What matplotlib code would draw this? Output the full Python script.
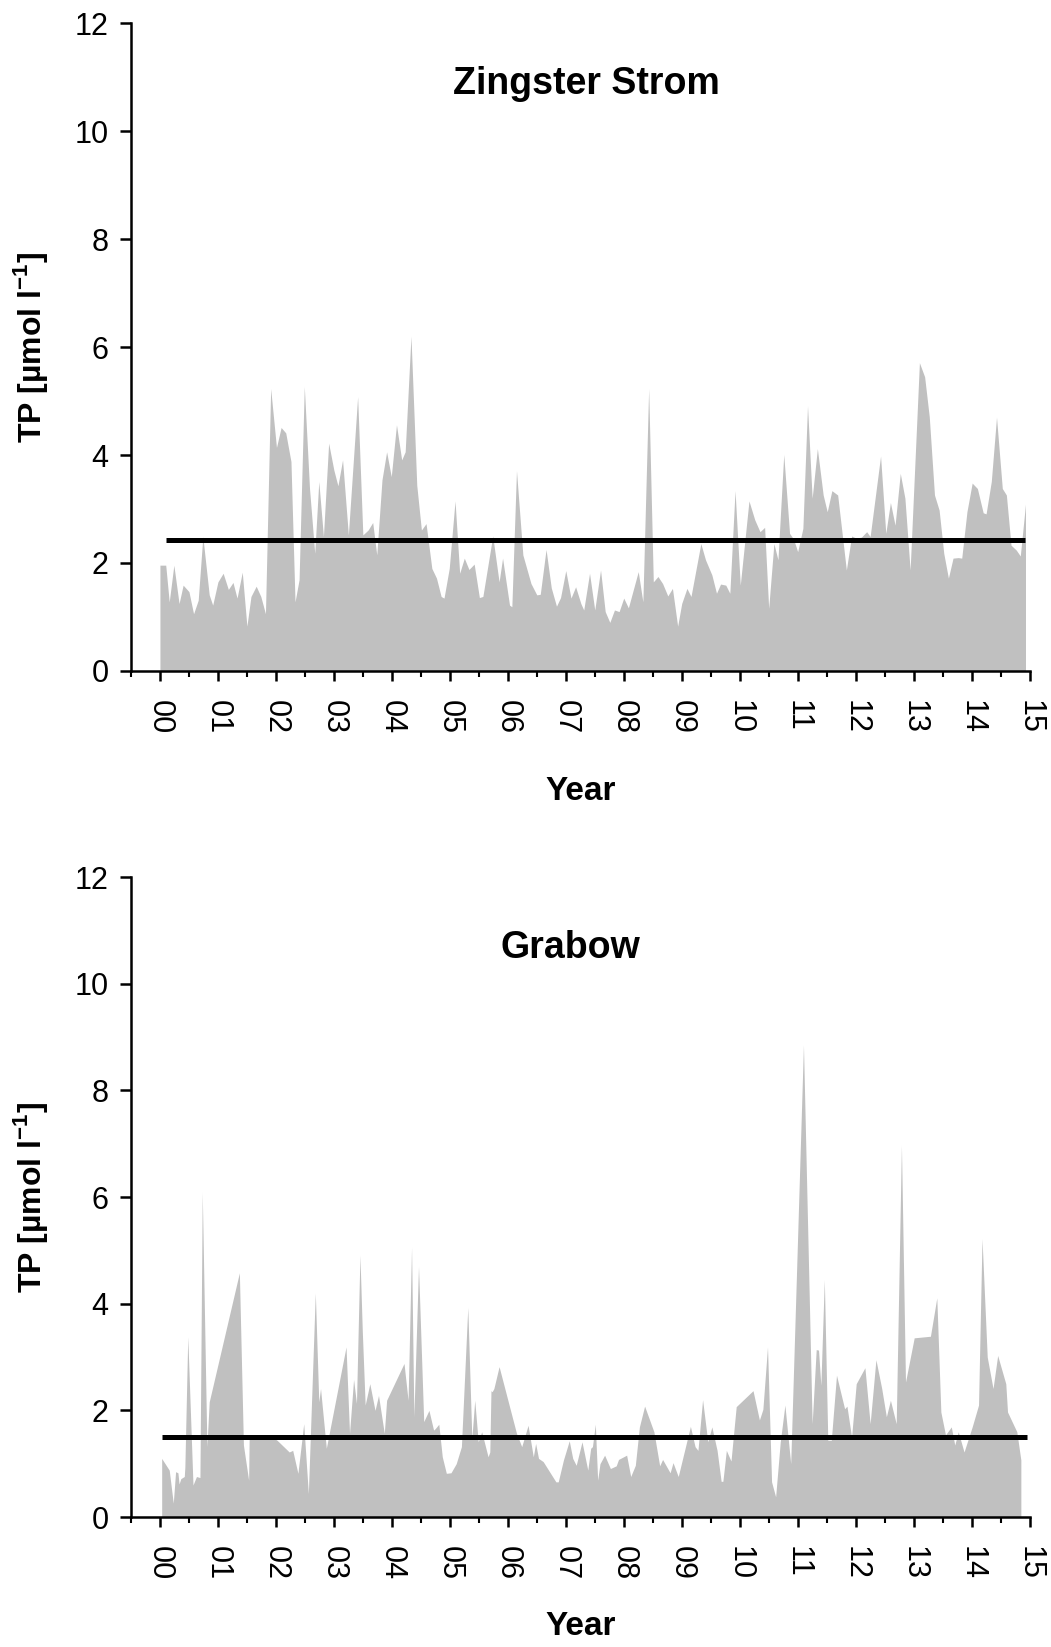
import numpy as np
import matplotlib
matplotlib.use("Agg")
import matplotlib.pyplot as plt
from matplotlib.ticker import MultipleLocator

plt.rcParams['font.family'] = ['Liberation Sans', 'DejaVu Sans']
plt.rcParams['mathtext.fontset'] = 'custom'
plt.rcParams['mathtext.rm'] = 'Liberation Sans'
plt.rcParams['mathtext.bf'] = 'Liberation Sans:bold'

# Zingster Strom: TP [umol/l] vs. years since 2000
zs_year = [0.00, 0.10, 0.16, 0.24, 0.33, 0.40, 0.50, 0.58, 0.66, 0.74, 0.85, 0.91,
           1.00, 1.09, 1.18, 1.26, 1.33, 1.42, 1.50, 1.57, 1.66, 1.74, 1.82, 1.91,
           2.01, 2.09, 2.17, 2.26, 2.33, 2.40, 2.49, 2.58, 2.67, 2.74, 2.82, 2.91,
           3.00, 3.07, 3.15, 3.25, 3.41, 3.50, 3.59, 3.67, 3.74, 3.83, 3.91, 3.99,
           4.08, 4.17, 4.23, 4.33, 4.43, 4.51, 4.59, 4.69, 4.77, 4.85, 4.90, 4.99,
           5.09, 5.17, 5.25, 5.33, 5.42, 5.51, 5.57, 5.74, 5.85, 5.91, 6.03, 6.07,
           6.15, 6.26, 6.40, 6.50, 6.56, 6.66, 6.75, 6.84, 6.91, 7.00, 7.09, 7.17,
           7.26, 7.31, 7.41, 7.50, 7.60, 7.68, 7.76, 7.84, 7.92, 8.00, 8.08, 8.25,
           8.33, 8.43, 8.51, 8.59, 8.67, 8.76, 8.84, 8.93, 9.00, 9.09, 9.16, 9.33,
           9.41, 9.52, 9.60, 9.67, 9.76, 9.83, 9.92, 10.01, 10.16, 10.26, 10.35, 10.43,
           10.50, 10.59, 10.66, 10.76, 10.86, 10.93, 11.00, 11.09, 11.17, 11.25, 11.34, 11.44,
           11.51, 11.59, 11.69, 11.84, 11.93, 12.01, 12.10, 12.19, 12.25, 12.43, 12.52, 12.60,
           12.68, 12.77, 12.85, 12.94, 13.10, 13.19, 13.27, 13.36, 13.44, 13.52, 13.60, 13.68,
           13.77, 13.83, 13.92, 14.01, 14.10, 14.20, 14.25, 14.34, 14.43, 14.53, 14.60, 14.68,
           14.77, 14.84, 14.93]
zs_tp = [1.96, 1.96, 1.28, 1.96, 1.25, 1.59, 1.47, 1.06, 1.31, 2.49, 1.41, 1.22,
         1.65, 1.81, 1.51, 1.64, 1.35, 1.83, 0.83, 1.38, 1.57, 1.38, 1.06, 5.23,
         4.14, 4.51, 4.41, 3.88, 1.28, 1.69, 5.27, 3.38, 2.18, 3.51, 2.49, 4.22,
         3.72, 3.43, 3.91, 2.52, 5.08, 2.52, 2.61, 2.75, 2.15, 3.54, 4.06, 3.60,
         4.56, 3.91, 4.06, 6.20, 3.44, 2.61, 2.73, 1.90, 1.72, 1.38, 1.35, 1.90,
         3.15, 1.81, 2.09, 1.88, 1.98, 1.36, 1.38, 2.50, 1.65, 2.09, 1.22, 1.19,
         3.71, 2.15, 1.62, 1.41, 1.42, 2.25, 1.54, 1.20, 1.36, 1.86, 1.35, 1.56,
         1.25, 1.13, 1.81, 1.13, 1.87, 1.10, 0.90, 1.13, 1.10, 1.35, 1.17, 1.84,
         1.28, 5.23, 1.65, 1.75, 1.62, 1.39, 1.53, 0.83, 1.25, 1.53, 1.38, 2.36,
         2.06, 1.78, 1.44, 1.61, 1.59, 1.44, 3.34, 1.59, 3.15, 2.80, 2.58, 2.66,
         1.16, 2.36, 2.06, 4.01, 2.55, 2.44, 2.21, 2.64, 4.91, 3.20, 4.12, 3.26,
         2.95, 3.34, 3.26, 1.87, 2.50, 2.46, 2.48, 2.58, 2.49, 3.98, 2.55, 3.12,
         2.70, 3.66, 3.20, 1.87, 5.71, 5.45, 4.71, 3.26, 2.98, 2.18, 1.72, 2.09,
         2.10, 2.09, 2.95, 3.48, 3.38, 2.93, 2.91, 3.51, 4.70, 3.38, 3.26, 2.33,
         2.24, 2.13, 3.09]
zs_mean = 2.42

# Grabow
gr_year = [0.03, 0.16, 0.23, 0.27, 0.31, 0.33, 0.36, 0.42, 0.43, 0.48, 0.57, 0.63,
           0.69, 0.73, 0.81, 0.85, 1.37, 1.44, 1.53, 1.54, 1.88, 2.02, 2.23, 2.29,
           2.38, 2.48, 2.56, 2.68, 2.74, 2.77, 2.87, 3.21, 3.27, 3.34, 3.39, 3.45,
           3.49, 3.54, 3.62, 3.71, 3.77, 3.87, 3.91, 4.21, 4.28, 4.34, 4.38, 4.46,
           4.55, 4.64, 4.72, 4.75, 4.81, 4.87, 4.94, 5.02, 5.11, 5.20, 5.31, 5.38,
           5.43, 5.49, 5.55, 5.66, 5.69, 5.71, 5.73, 5.76, 5.85, 6.15, 6.24, 6.35,
           6.44, 6.48, 6.53, 6.61, 6.83, 6.87, 6.96, 7.06, 7.12, 7.18, 7.28, 7.38,
           7.43, 7.46, 7.51, 7.55, 7.59, 7.67, 7.77, 7.87, 7.91, 8.05, 8.12, 8.20,
           8.27, 8.36, 8.52, 8.62, 8.67, 8.80, 8.85, 8.94, 9.15, 9.23, 9.28, 9.36,
           9.45, 9.52, 9.61, 9.68, 9.71, 9.77, 9.85, 9.94, 10.23, 10.34, 10.40, 10.48,
           10.55, 10.62, 10.70, 10.78, 10.88, 11.10, 11.25, 11.32, 11.36, 11.40, 11.46, 11.52,
           11.58, 11.67, 11.81, 11.85, 11.93, 12.01, 12.16, 12.25, 12.35, 12.45, 12.53, 12.60,
           12.70, 12.79, 12.86, 13.01, 13.29, 13.40, 13.47, 13.55, 13.65, 13.71, 13.77, 13.87,
           14.01, 14.12, 14.18, 14.27, 14.37, 14.45, 14.59, 14.62, 14.78, 14.85]
gr_tp = [1.10, 0.88, 0.26, 0.85, 0.83, 0.62, 0.72, 0.76, 0.94, 3.38, 0.60, 0.76,
         0.74, 6.09, 1.32, 2.16, 4.58, 1.35, 0.69, 1.54, 1.54, 1.44, 1.22, 1.25,
         0.82, 1.75, 0.44, 4.20, 2.16, 2.41, 1.29, 3.19, 1.57, 2.58, 2.13, 4.91,
         3.50, 2.10, 2.50, 2.00, 2.28, 1.57, 2.19, 2.88, 2.19, 5.06, 1.88, 4.70,
         1.79, 2.00, 1.63, 1.66, 1.74, 1.13, 0.82, 0.83, 1.00, 1.32, 3.93, 1.47,
         2.19, 1.41, 1.60, 1.13, 1.22, 2.37, 2.35, 2.41, 2.82, 1.57, 1.32, 1.72,
         1.13, 1.38, 1.10, 1.04, 0.66, 0.66, 1.07, 1.43, 1.10, 0.97, 1.41, 0.88,
         1.29, 1.32, 1.74, 0.69, 1.00, 1.16, 0.91, 0.96, 1.08, 1.16, 0.76, 0.97,
         1.69, 2.08, 1.60, 0.96, 1.08, 0.83, 1.02, 0.76, 1.70, 1.32, 1.25, 2.20,
         1.41, 1.69, 1.25, 0.67, 0.67, 1.25, 1.05, 2.07, 2.37, 1.82, 2.02, 3.19,
         0.66, 0.38, 1.41, 2.10, 1.00, 8.85, 1.75, 3.14, 3.13, 2.47, 4.45, 1.44,
         1.44, 2.66, 2.03, 2.08, 1.50, 2.50, 2.80, 1.75, 2.95, 2.41, 1.88, 2.19,
         1.75, 6.97, 2.53, 3.36, 3.39, 4.11, 1.97, 1.54, 1.69, 1.35, 1.60, 1.22,
         1.69, 2.10, 5.22, 3.00, 2.41, 3.03, 2.50, 1.97, 1.60, 1.07]
gr_mean = 1.50

year_labels = ['%02d' % i for i in range(16)]

fig = plt.figure(figsize=(10.51, 16.47), dpi=100)
ax_top = fig.add_axes([0.1246, 0.5926, 0.855, 0.3934])
ax_bot = fig.add_axes([0.1246, 0.0789, 0.855, 0.3886])

panels = [
    (ax_top, zs_year, zs_tp, zs_mean, (0.10, 14.92), 'Zingster Strom', (0.507, 0.906), 30),
    (ax_bot, gr_year, gr_tp, gr_mean, (0.04, 14.95), 'Grabow', (0.489, 0.889), 22),
]

for ax, yr, tp, mean, (m0, m1), title, (tx, ty), xpad in panels:
    ax.fill_between(yr, tp, 0, color='#c0c0c0', linewidth=0)
    ax.plot([m0, m1], [mean, mean], color='black', linewidth=3.6, solid_capstyle='butt')

    ax.set_xlim(-0.5, 15)
    ax.set_ylim(0, 12)
    for s in ['top', 'right']:
        ax.spines[s].set_visible(False)
    for s in ['left', 'bottom']:
        ax.spines[s].set_linewidth(1.8)

    ax.set_xticks(range(16))
    ax.set_xticklabels(year_labels, rotation=-90, fontsize=22)
    ax.xaxis.set_minor_locator(MultipleLocator(0.5))
    ax.set_yticks(range(0, 13, 2))
    ax.tick_params(axis='y', labelsize=22, length=8, width=1.8, direction='out', pad=8)
    ax.tick_params(axis='x', which='major', length=7, width=1.8, direction='out', pad=14)
    ax.tick_params(axis='x', which='minor', length=4, width=1.5, direction='out')

    ax.set_ylabel('TP [µmol l$^{\\mathbf{-1}}$]', fontsize=23, fontweight='bold', labelpad=18)
    ax.set_xlabel('Year', fontsize=24, fontweight='bold', labelpad=xpad)
    ax.text(tx, ty, title, transform=ax.transAxes, ha='center', va='center',
            fontsize=27, fontweight='bold')

fig.savefig('out.png', dpi=100)
